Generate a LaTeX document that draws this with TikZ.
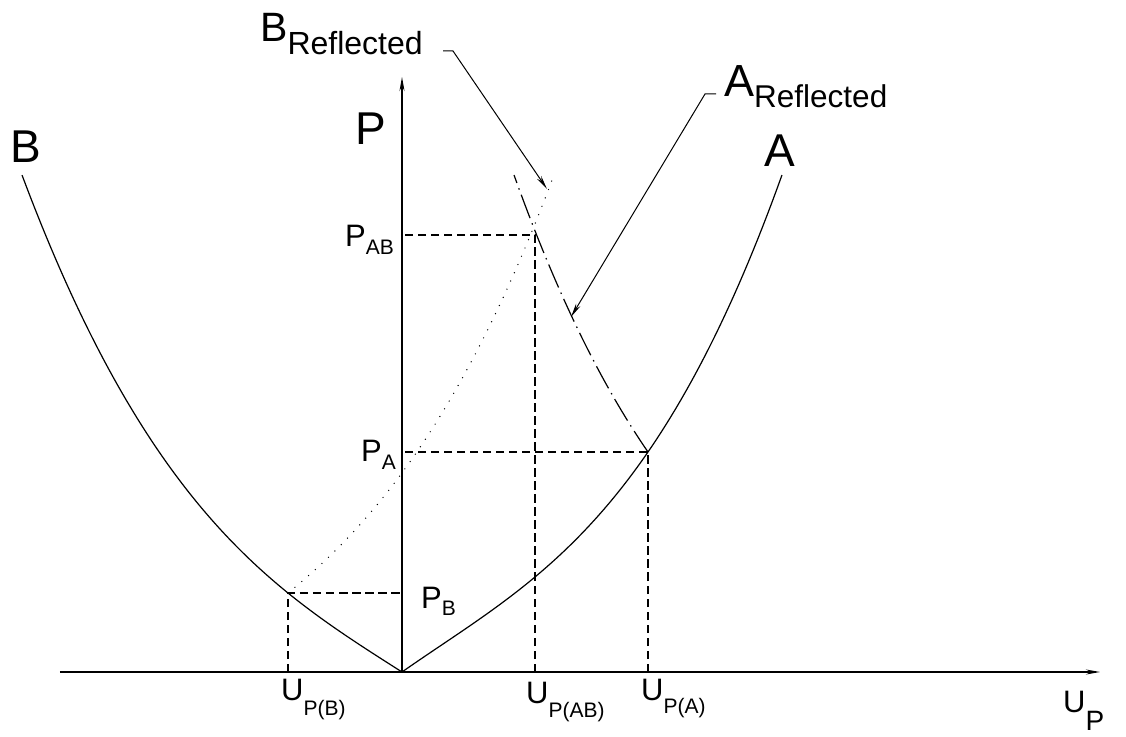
\documentclass[tikz,border=0pt]{standalone}
\usepackage{fontspec}
\setmainfont{Liberation Sans}
\usetikzlibrary{arrows.meta}
\newcommand{\axlabel}[5]{{\fontsize{#1}{#1}\selectfont #2}\raisebox{-#4pt}{\fontsize{#3}{#3}\selectfont #5}}
\newcommand{\biglabel}[1]{{\fontsize{46}{46}\selectfont #1}}
\begin{document}
\begin{tikzpicture}[x=1pt,y=1pt,>={Stealth[length=14pt,width=5pt]},
  curve/.style={line width=1.2pt},
  guide/.style={line width=1.2pt,dash pattern=on 8.5pt off 4.5pt},
  reflB/.style={line width=1.4pt,line cap=round,dash pattern=on 0pt off 9pt},
  reflA/.style={line width=1.2pt,dash pattern=on 25pt off 5.5pt on 1.5pt off 5.5pt},
  lbl/.style={anchor=base west,inner sep=0pt}]
  \useasboundingbox (-402,-64) rectangle (724,672);
  \coordinate (O) at (0,0);
  \coordinate (xstart) at (-342,0);
  \coordinate (xend) at (698,0);
  \coordinate (yend) at (0,595);
  \coordinate (ptB) at (-114,79);
  \coordinate (ptA) at (246,220);
  \coordinate (ptAB) at (133,437);
  % axes
  \draw[curve,->] (xstart) -- (xend);
  \draw[curve,->] (O) -- (yend);
  % hugoniots
  \draw[curve,domain=0:3.8,samples=80]
    plot ({100*\x},{70.02*\x-6.98*\x*\x+6.046*\x*\x*\x});
  \draw[curve,domain=0:3.8,samples=80]
    plot ({-100*\x},{63.73*\x-0.585*\x*\x+4.798*\x*\x*\x});
  % reflected ones
  \draw[reflB,domain=1.14:3.8,samples=60]
    plot ({-228+100*\x},{63.73*\x-0.585*\x*\x+4.798*\x*\x*\x});
  \draw[reflA,domain=2.46:3.8,samples=60]
    plot ({492-100*\x},{70.02*\x-6.98*\x*\x+6.046*\x*\x*\x});
  % guides
  \draw[guide] (ptB |- O) -- (ptB) -- (ptB -| O);
  \draw[guide] (ptA |- O) -- (ptA) -- (ptA -| O);
  \draw[guide] (ptAB |- O) -- (ptAB) -- (ptAB -| O);
  % leaders
  \coordinate (bstub) at (41,621);
  \coordinate (bknee) at (51,621);
  \coordinate (btip) at (145,483);
  \coordinate (astub) at (314,578);
  \coordinate (aknee) at (303,578);
  \coordinate (atip) at (169,355);
  \draw[line width=1pt,->] (bstub) -- (bknee) -- (btip);
  \draw[line width=1pt,->] (astub) -- (aknee) -- (atip);
  % labels
  \node[lbl] (labB) at (-392,509) {\biglabel{B}};
  \node[lbl] (labP) at (-47,527) {\biglabel{P}};
  \node[lbl] (labA) at (362,505) {\biglabel{A}};
  \node[lbl] (labBref) at (-142,630) {\axlabel{41}{B}{32}{13}{Reflected}};
  \node[lbl] (labAref) at (322,575) {\axlabel{45}{A}{31.5}{11}{Reflected}};
  \node[lbl] (labPAB) at (-57,425) {\axlabel{31}{P}{21}{8}{AB}};
  \node[lbl] (labPA) at (-41,210) {\axlabel{31}{P}{21}{8}{A}};
  \node[lbl] (labPB) at (19,64) {\axlabel{31}{P}{21}{7}{B}};
  \node[lbl] (labUB) at (-121,-28) {\axlabel{31}{U}{21}{15}{P(B)}};
  \node[lbl] (labUAB) at (124,-31) {\axlabel{31}{U}{21}{14}{P(AB)}};
  \node[lbl] (labUA) at (239,-28) {\axlabel{31}{U}{21}{13}{P(A)}};
  \node[lbl] (labUP) at (661,-40) {\axlabel{31}{U}{28}{18}{P}};
\end{tikzpicture}
\end{document}
